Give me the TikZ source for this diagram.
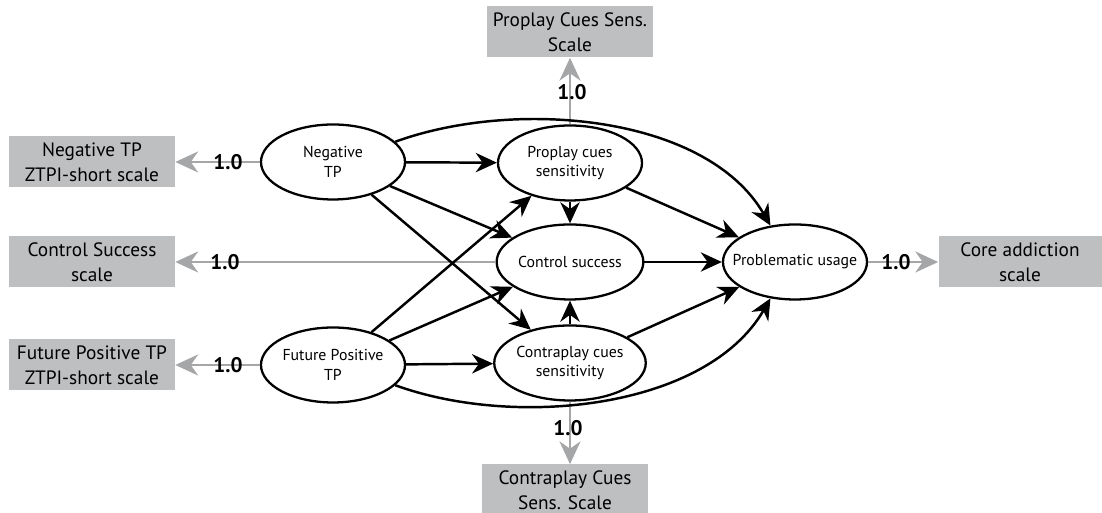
\documentclass[tikz,border=0pt]{standalone}
\usepackage{fontspec}
\setmainfont{PT Sans}
\usetikzlibrary{shapes.geometric,arrows.meta,positioning,calc}
\definecolor{scalegray}{RGB}{190,191,193}
\definecolor{loadgray}{RGB}{165,166,168}

\begin{document}
\begin{tikzpicture}[
    >=Stealth,
    latent/.style={ellipse, draw=black, fill=white, line width=1.3pt, minimum width=2.88cm, minimum height=1.5cm, inner sep=0pt, align=center, font=\fontsize{9}{11}\selectfont},
    scalebox/.style={rectangle, fill=scalegray, minimum width=3.32cm, minimum height=1.02cm, inner sep=0pt, align=center, font=\fontsize{11}{14}\selectfont},
    path/.style={line width=1.4pt, -{Stealth[length=12pt,width=11pt]}},
    loading/.style={line width=1.2pt, draw=loadgray, -{Stealth[length=13pt,width=12pt]}},
    coef/.style={font=\bfseries\fontsize{12}{14}\selectfont, inner sep=0pt}
]
\useasboundingbox (0,0) rectangle (22.04,10.26);

% Latent variables
\node[latent] (neg)    at (6.66, 7.02) {Negative\\ TP};
\node[latent] (fpos)   at (6.66, 2.96) {Future Positive\\ TP};
\node[latent] (pro)    at (11.4, 7.00) {Proplay cues\\ sensitivity};
\node[latent] (ctrl)   at (11.4, 5.02) {Control success};
\node[latent] (contra) at (11.4, 3.00) {Contraplay cues\\ sensitivity};
\node[latent, inner xsep=-9pt] (prob) at (15.9, 5.02) {Problematic usage};

% Measured scales
\node[scalebox] (negS)    at (1.84, 7.02)  {Negative TP\\ ZTPI-short scale};
\node[scalebox] (ctrlS)   at (1.84, 5.02)  {Control Success\\ scale};
\node[scalebox] (fposS)   at (1.84, 2.96)  {Future Positive TP\\ ZTPI-short scale};
\node[scalebox] (proS)    at (11.4, 9.62)  {Proplay Cues Sens.\\ Scale};
\node[scalebox] (contraS) at (11.3, 0.46)  {Contraplay Cues\\ Sens. Scale};
\node[scalebox, minimum width=3.26cm] (coreS) at (20.4, 5.02) {Core addiction\\ scale};

% Loadings (gray)
\draw[loading] (neg) -- (negS);
\draw[loading] (ctrl) -- (ctrlS);
\draw[loading] (fpos) -- (fposS);
\draw[loading] (pro.north) -- (pro.north |- proS.south);
\draw[loading] (contra.south) -- (contra.south |- contraS.north);
\draw[loading] (prob) -- (coreS);

% Structural paths
\draw[path] (neg) -- (pro);
\draw[path] (neg) -- (ctrl);
\draw[path] (neg) -- (contra);
\draw[path] (fpos) -- (pro);
\draw[path] (fpos) -- (ctrl);
\draw[path] (fpos) -- (contra);
\draw[path] (pro) -- (ctrl);
\draw[path] (contra) -- (ctrl);
\draw[path] (pro) -- (prob);
\draw[path] (ctrl) -- (prob);
\draw[path] (contra) -- (prob);
\draw[path] (neg.18) to[out=20, in=120, looseness=0.85] (prob.124);
\draw[path] (fpos.-18) to[out=-20, in=-120, looseness=0.85] (prob.-124);

% Loading values
\node[coef] (negV)    at (4.56, 7.02) {1.0};
\node[coef] (ctrlV)   at (4.50, 5.02) {1.0};
\node[coef] (fposV)   at (4.56, 2.96) {1.0};
\node[coef] (proV)    at (11.44, 8.42) {1.0};
\node[coef] (contraV) at (11.36, 1.70) {1.0};
\node[coef] (coreV)   at (17.92, 5.02) {1.0};

\end{tikzpicture}
\end{document}
